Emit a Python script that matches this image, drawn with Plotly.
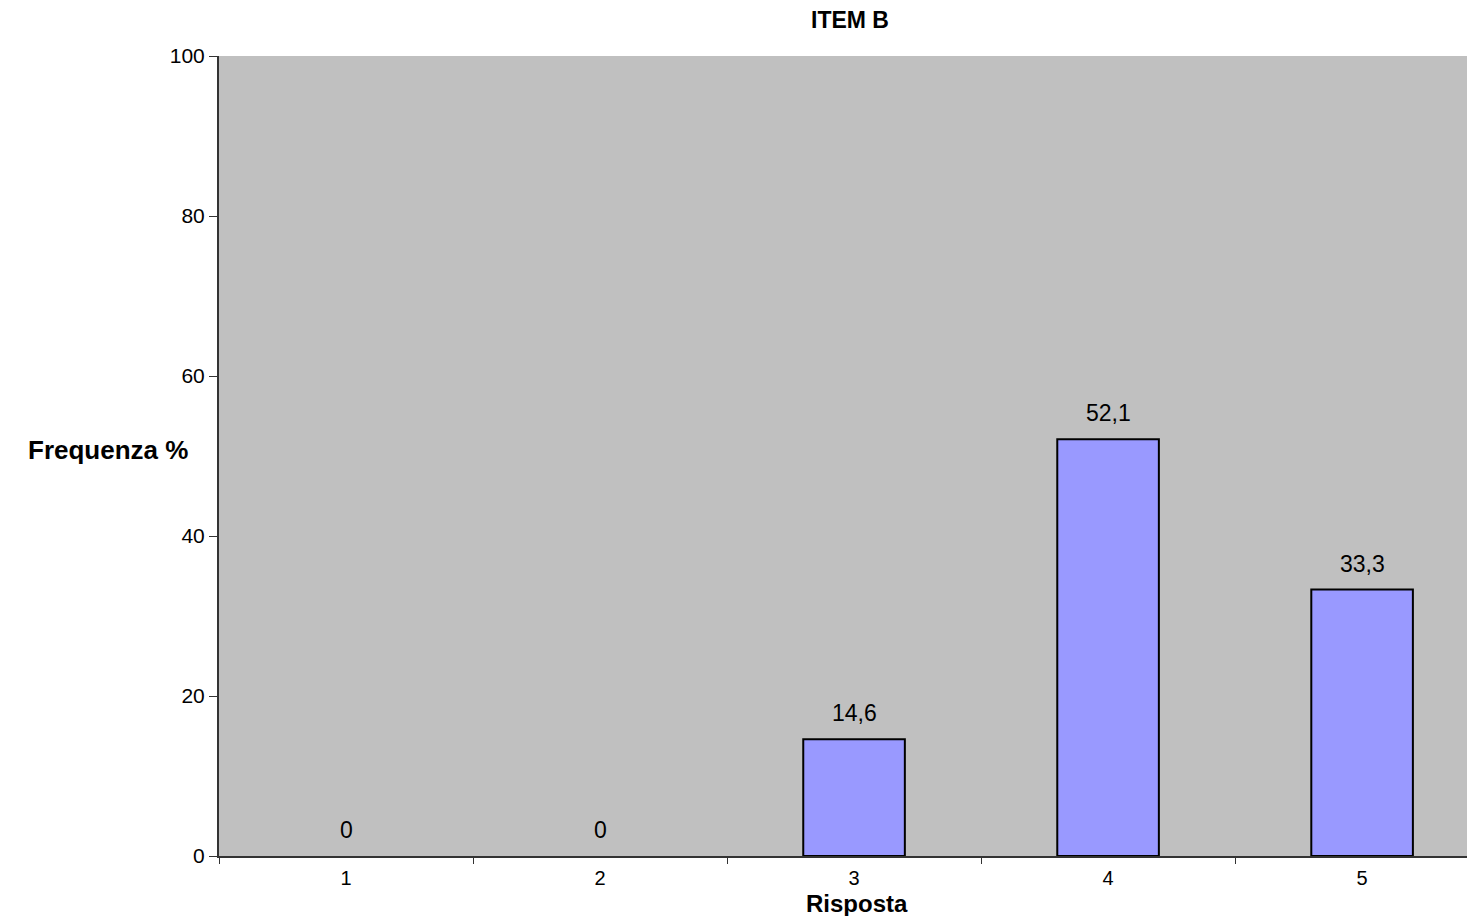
import plotly.graph_objects as go

categories = ["1", "2", "3", "4", "5"]
values = [0, 0, 14.6, 52.1, 33.3]
value_labels = ["0", "0", "14,6", "52,1", "33,3"]
y_ticks = [0, 20, 40, 60, 80, 100]

FONT = "Liberation Sans, Arial, sans-serif"

fig = go.Figure()
fig.add_trace(go.Bar(
    x=categories, y=values,
    marker=dict(color="#9999FF",
                line=dict(color="black", width=[2 if v > 0 else 0 for v in values])),
    width=0.4,
))

for i, (v, t) in enumerate(zip(values, value_labels)):
    fig.add_annotation(x=i, y=v, text=t, showarrow=False, yanchor="middle",
                       yshift=26, font=dict(family=FONT, size=23, color="black"))

fig.add_annotation(xref="paper", yref="paper", x=0, y=0.5075, xanchor="right",
                   xshift=-29, yanchor="middle",
                   text="<b>Frequenza %</b>", showarrow=False,
                   font=dict(family=FONT, size=26, color="black"))

fig.add_annotation(x=2, yref="paper", y=0, yanchor="middle", xshift=3,
                   yshift=-47, text="<b>Risposta</b>", showarrow=False,
                   font=dict(family=FONT, size=24, color="black"))

fig.add_annotation(x=2, yref="paper", y=1, yanchor="middle", xshift=-4,
                   yshift=36, text="<b>ITEM B</b>", showarrow=False,
                   font=dict(family=FONT, size=23, color="black"))

fig.update_layout(
    width=1459, height=908,
    margin=dict(l=211, r=0, t=48, b=60),
    paper_bgcolor="white", plot_bgcolor="#C0C0C0",
    showlegend=False,
    xaxis=dict(type="category", range=[-0.5, 4.413], tickson="boundaries",
               ticks="outside", ticklen=6, ticklabelstandoff=3,
               tickcolor="#333", showline=True, linecolor="#333", linewidth=2,
               showgrid=False, tickfont=dict(family=FONT, size=20, color="black")),
    yaxis=dict(range=[0, 100], tickvals=y_ticks, ticks="outside", ticklen=8,
               tickcolor="#333", showline=True, linecolor="#333", linewidth=2,
               showgrid=False, zeroline=False,
               tickfont=dict(family=FONT, size=21, color="black")),
)

fig.write_html("out.html")
